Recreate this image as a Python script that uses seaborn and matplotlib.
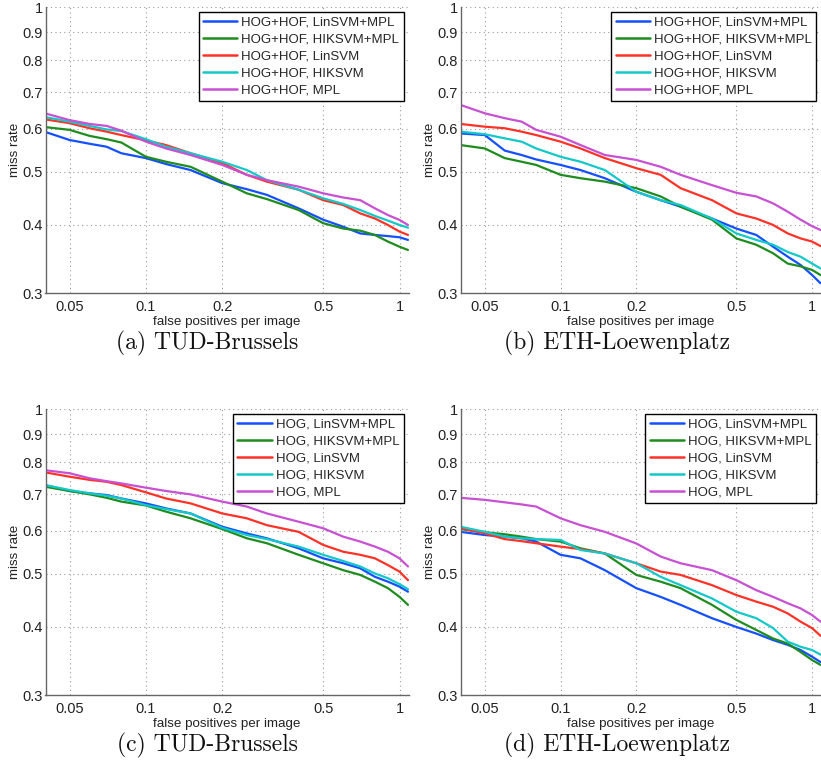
import numpy as np
import pandas as pd
import matplotlib
matplotlib.use("Agg")
import matplotlib.pyplot as plt
import seaborn as sns
from matplotlib.ticker import FixedLocator, FixedFormatter, NullLocator

sns.set_style("white")
plt.rcParams['font.family'] = ['Liberation Sans', 'DejaVu Sans']

fppi = [0.04, 0.05, 0.06, 0.07, 0.08, 0.1, 0.12, 0.15, 0.2, 0.25, 0.3,
        0.4, 0.5, 0.6, 0.7, 0.8, 0.9, 1.0, 1.08]

methods = ["LinSVM+MPL", "HIKSVM+MPL", "LinSVM", "HIKSVM", "MPL"]
colors = ["#1450ff", "#1e8c1e", "#ff3228", "#14c8c8", "#c850d2"]

# (a) TUD-Brussels, HOG+HOF
a_lin_mpl = [0.592, 0.572, 0.563, 0.556, 0.541, 0.530, 0.517, 0.504, 0.477, 0.465, 0.454,
             0.429, 0.409, 0.397, 0.386, 0.3835, 0.3817, 0.3798, 0.3756]
a_hik_mpl = [0.604, 0.597, 0.582, 0.574, 0.566, 0.533, 0.522, 0.511, 0.480, 0.457, 0.446,
             0.426, 0.403, 0.394, 0.3905, 0.3835, 0.373, 0.365, 0.360]
a_lin = [0.624, 0.614, 0.601, 0.5925, 0.584, 0.571, 0.560, 0.541, 0.519, 0.494, 0.480,
         0.464, 0.444, 0.435, 0.420, 0.411, 0.400, 0.389, 0.3835]
a_hik = [0.630, 0.618, 0.607, 0.598, 0.594, 0.574, 0.556, 0.541, 0.522, 0.504, 0.483,
         0.464, 0.4475, 0.437, 0.426, 0.4155, 0.4074, 0.400, 0.3955]
a_mpl = [0.640, 0.622, 0.612, 0.607, 0.595, 0.568, 0.552, 0.537, 0.515, 0.494, 0.483,
         0.470, 0.457, 0.449, 0.444, 0.429, 0.417, 0.4086, 0.400]

# (b) ETH-Loewenplatz, HOG+HOF
b_lin_mpl = [0.588, 0.584, 0.547, 0.537, 0.527, 0.515, 0.504, 0.487, 0.460, 0.444, 0.432,
             0.411, 0.394, 0.3835, 0.365, 0.350, 0.338, 0.324, 0.313]
b_hik_mpl = [0.560, 0.552, 0.530, 0.522, 0.515, 0.494, 0.487, 0.480, 0.467, 0.451, 0.432,
             0.409, 0.378, 0.368, 0.355, 0.340, 0.336, 0.331, 0.324]
b_lin = [0.612, 0.605, 0.601, 0.5925, 0.584, 0.568, 0.552, 0.530, 0.508, 0.494, 0.467,
         0.444, 0.420, 0.411, 0.400, 0.386, 0.378, 0.373, 0.366]
b_hik = [0.5925, 0.586, 0.576, 0.568, 0.552, 0.533, 0.522, 0.504, 0.460, 0.444, 0.435,
         0.411, 0.386, 0.3756, 0.368, 0.357, 0.350, 0.340, 0.333]
b_mpl = [0.663, 0.640, 0.627, 0.618, 0.597, 0.580, 0.560, 0.537, 0.526, 0.511, 0.494,
         0.473, 0.458, 0.451, 0.438, 0.423, 0.409, 0.398, 0.3916]

# (c) TUD-Brussels, HOG
c_lin_mpl = [0.727, 0.709, 0.702, 0.697, 0.687, 0.673, 0.659, 0.645, 0.610, 0.593, 0.581,
             0.557, 0.534, 0.523, 0.512, 0.494, 0.484, 0.474, 0.464]
c_hik_mpl = [0.722, 0.709, 0.699, 0.689, 0.678, 0.667, 0.650, 0.632, 0.604, 0.581, 0.569,
             0.542, 0.523, 0.508, 0.498, 0.484, 0.471, 0.454, 0.439]
c_lin = [0.767, 0.753, 0.743, 0.737, 0.727, 0.705, 0.687, 0.673, 0.645, 0.632, 0.614,
         0.597, 0.565, 0.549, 0.542, 0.534, 0.519, 0.505, 0.487]
c_hik = [0.727, 0.712, 0.702, 0.695, 0.687, 0.668, 0.657, 0.645, 0.607, 0.589, 0.579,
         0.561, 0.542, 0.528, 0.516, 0.501, 0.491, 0.479, 0.469]
c_mpl = [0.774, 0.764, 0.748, 0.739, 0.732, 0.719, 0.709, 0.699, 0.678, 0.664, 0.645,
         0.623, 0.606, 0.585, 0.573, 0.561, 0.549, 0.534, 0.516]

# (d) ETH-Loewenplatz, HOG
d_lin_mpl = [0.597, 0.589, 0.585, 0.581, 0.573, 0.542, 0.534, 0.508, 0.471, 0.454, 0.439,
             0.415, 0.400, 0.389, 0.3785, 0.371, 0.363, 0.353, 0.345]
d_hik_mpl = [0.604, 0.596, 0.591, 0.585, 0.579, 0.573, 0.557, 0.545, 0.498, 0.484, 0.471,
             0.439, 0.412, 0.395, 0.381, 0.373, 0.360, 0.348, 0.341]
d_lin = [0.606, 0.593, 0.579, 0.574, 0.569, 0.561, 0.555, 0.545, 0.523, 0.505, 0.498,
         0.477, 0.4575, 0.445, 0.4355, 0.4235, 0.409, 0.398, 0.3855]
d_hik = [0.610, 0.597, 0.585, 0.581, 0.579, 0.577, 0.553, 0.545, 0.523, 0.494, 0.477,
         0.451, 0.4265, 0.415, 0.398, 0.376, 0.368, 0.363, 0.356]
d_mpl = [0.689, 0.683, 0.676, 0.670, 0.664, 0.632, 0.614, 0.597, 0.5685, 0.538, 0.523,
         0.508, 0.487, 0.467, 0.454, 0.442, 0.4325, 0.4205, 0.409]

panels = [
    ("HOG+HOF", [a_lin_mpl, a_hik_mpl, a_lin, a_hik, a_mpl], "(a) TUD-Brussels"),
    ("HOG+HOF", [b_lin_mpl, b_hik_mpl, b_lin, b_hik, b_mpl], "(b) ETH-Loewenplatz"),
    ("HOG", [c_lin_mpl, c_hik_mpl, c_lin, c_hik, c_mpl], "(c) TUD-Brussels"),
    ("HOG", [d_lin_mpl, d_hik_mpl, d_lin, d_hik, d_mpl], "(d) ETH-Loewenplatz"),
]

xticks = [0.05, 0.1, 0.2, 0.5, 1]
xticklabels = ["0.05", "0.1", "0.2", "0.5", "1"]
yticks = [0.3, 0.4, 0.5, 0.6, 0.7, 0.8, 0.9, 1.0]
yticklabels = ["0.3", "0.4", "0.5", "0.6", "0.7", "0.8", "0.9", "1"]

W, H = 821, 770
fig = plt.figure(figsize=(W / 100, H / 100), dpi=100)

# axes boxes in pixels: left, top, right, bottom
boxes = [(45.5, 7.3, 408.5, 293.3), (461, 7.3, 821, 293.3),
         (45.5, 409.3, 408.5, 695.3), (461, 409.3, 821, 695.3)]
captions_xy = [(207, 343), (617, 343), (207, 745), (617, 745)]

for (feat, series, caption), (l, t, r, b), (cx, cy) in zip(panels, boxes, captions_xy):
    ax = fig.add_axes([l / W, 1 - b / H, (r - l) / W, (b - t) / H])
    labels = [f"{feat}, {m}" for m in methods]
    rows = []
    for lab, ys in zip(labels, series):
        for xv, yv in zip(fppi, ys):
            rows.append({"fppi": xv, "miss": yv, "method": lab})
    df = pd.DataFrame(rows)
    sns.lineplot(data=df, x="fppi", y="miss", hue="method", hue_order=labels,
                 palette=colors, estimator=None, sort=False, linewidth=1.6,
                 ax=ax, legend=False)
    ax.set_xscale("log")
    ax.set_yscale("log")
    ax.set_xlim(0.0402, 1.085)
    ax.set_ylim(0.3, 1.0)
    ax.xaxis.set_major_locator(FixedLocator(xticks))
    ax.xaxis.set_major_formatter(FixedFormatter(xticklabels))
    ax.yaxis.set_major_locator(FixedLocator(yticks))
    ax.yaxis.set_major_formatter(FixedFormatter(yticklabels))
    ax.xaxis.set_minor_locator(NullLocator())
    ax.yaxis.set_minor_locator(NullLocator())
    ax.grid(True, which="major", linestyle=(0, (1, 3)), color="#9a9a9a", linewidth=0.8)
    ax.tick_params(axis="both", direction="in", length=3, width=0.8, color="#555555",
                   labelsize=10.5, labelcolor="#222222", pad=3)
    ax.tick_params(axis="x", pad=5)
    ax.tick_params(axis="y", pad=2)
    for s in ["top", "right"]:
        ax.spines[s].set_visible(False)
    for s in ["left", "bottom"]:
        ax.spines[s].set_color("#666666")
        ax.spines[s].set_linewidth(1.0)
    ax.set_xlabel("false positives per image", fontsize=9.6, labelpad=1, color="#222222")
    ax.set_ylabel("miss rate", fontsize=9.6, labelpad=1, color="#222222")
    handles = [plt.Line2D([], [], color=c, linewidth=1.8) for c in colors]
    leg = ax.legend(handles, labels, loc="upper right", fontsize=9.5, frameon=True,
                    fancybox=False, edgecolor="black", framealpha=1.0,
                    borderaxespad=0.35, handlelength=2.6, handletextpad=0.3,
                    labelspacing=0.35, borderpad=0.35)
    leg.get_frame().set_linewidth(1.0)
    fig.text(cx / W, 1 - cy / H, caption, family="cmr10", fontsize=17,
             ha="center", va="center", color="#111111")

fig.savefig("out.png", dpi=100)
